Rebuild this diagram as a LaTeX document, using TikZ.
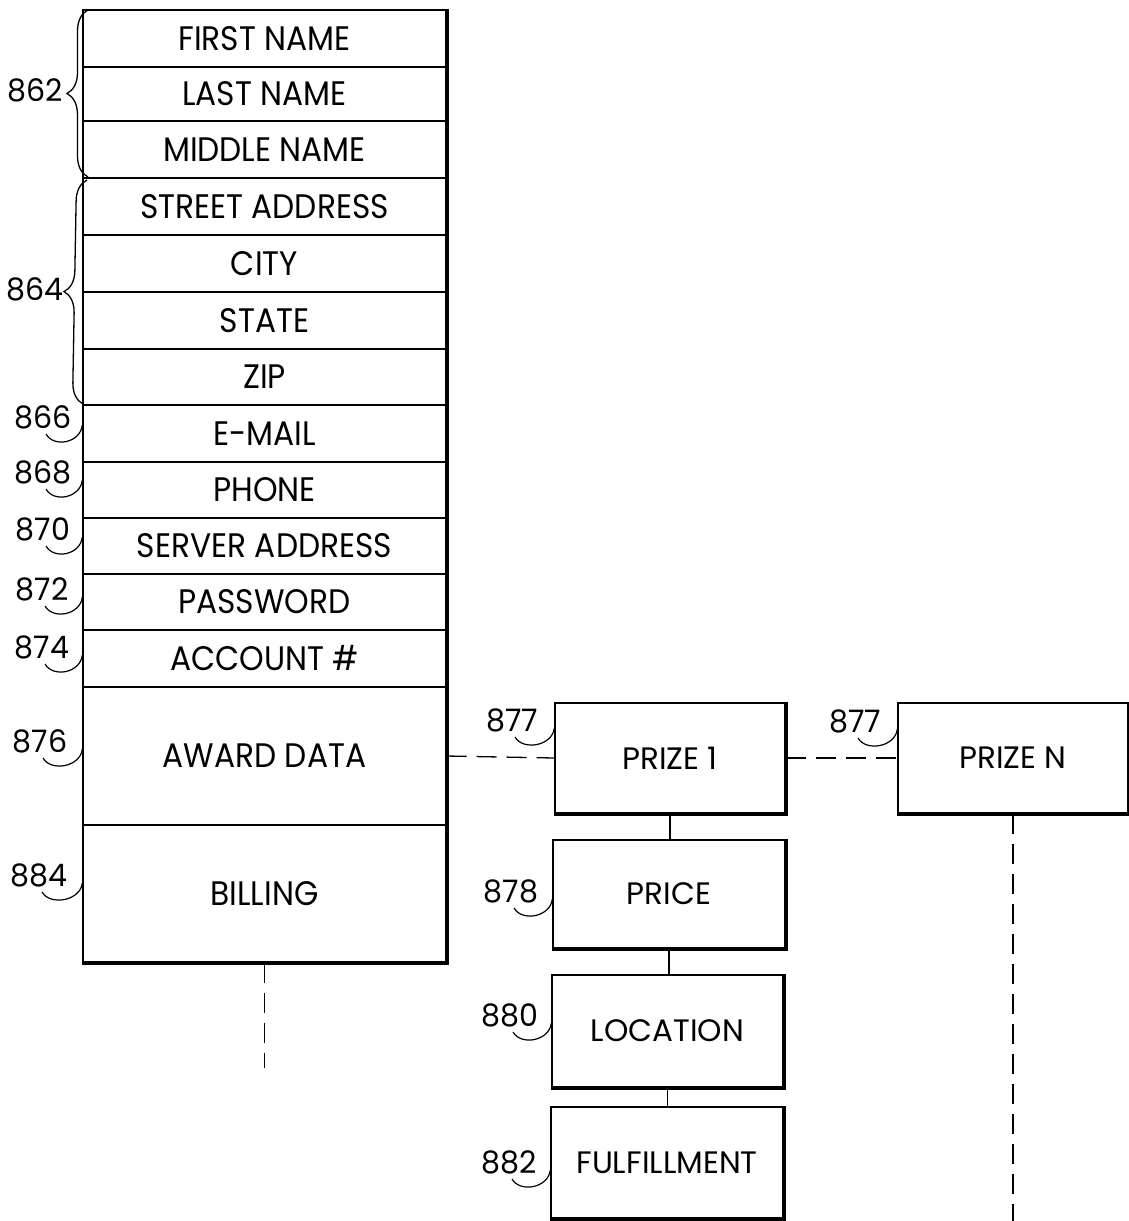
\documentclass[tikz,border=0pt]{standalone}
\usepackage{fontspec}
\usetikzlibrary{decorations.pathreplacing,calc}
\newfontfamily\herosn{Poppins}[FakeStretch=0.92]
\newfontfamily\herosw{Poppins}
\newfontfamily\herosd{Poppins}[FakeStretch=0.97]
\newcommand\mycellfont{\herosn\fontsize{34}{34}\selectfont}
\newcommand\myboxfont{\herosw\fontsize{31}{31}\selectfont}
\newcommand\mynumfont{\herosd\fontsize{31}{31}\selectfont}
\newcommand\myshadow[1]{\draw[shadowline] ([xshift=1pt]#1.north east) -- ([shift={(1pt,-1pt)}]#1.south east) -- ([yshift=-1pt]#1.south west);}
\begin{document}
\begin{tikzpicture}[x=1pt,y=-1pt,
  every node/.style={inner sep=0pt},
  cell/.style={draw, line width=1.3pt, minimum width=363pt, font=\mycellfont},
  pbox/.style={draw, line width=1.3pt, font=\myboxfont},
  num/.style={font=\mynumfont},
  leader/.style={line width=1.2pt},
  dashline/.style={line width=1.3pt, dash pattern=on 20pt off 10pt},
  solidline/.style={line width=1.3pt},
  shadowline/.style={line width=3.5pt},
  bracestyle/.style={line width=1.3pt, decorate, decoration={brace, amplitude=21pt}}]
\useasboundingbox (0,0) rectangle (1129,1221);

% main record table
\node[cell, minimum height=57pt]  (r1)  at (264.5,38.5)  {FIRST NAME};
\node[cell, minimum height=54pt]  (r2)  at (264.5,94)    {LAST NAME};
\node[cell, minimum height=57pt]  (r3)  at (264.5,149.5) {MIDDLE NAME};
\node[cell, minimum height=57pt]  (r4)  at (264.5,206.5) {STREET ADDRESS};
\node[cell, minimum height=57pt]  (r5)  at (264.5,263.5) {CITY};
\node[cell, minimum height=57pt]  (r6)  at (264.5,320.5) {STATE};
\node[cell, minimum height=56pt]  (r7)  at (264.5,377)   {ZIP};
\node[cell, minimum height=57pt]  (r8)  at (264.5,433.5) {E-MAIL};
\node[cell, minimum height=56pt]  (r9)  at (264.5,490)   {PHONE};
\node[cell, minimum height=56pt]  (r10) at (264.5,546)   {SERVER ADDRESS};
\node[cell, minimum height=56pt]  (r11) at (264.5,602)   {PASSWORD};
\node[cell, minimum height=57pt]  (r12) at (264.5,658.5) {ACCOUNT \#};
\node[cell, minimum height=138pt] (r13) at (264.5,756)   {AWARD DATA};
\node[cell, minimum height=137pt] (r14) at (264.5,893.5) {BILLING};
\draw[shadowline] ([xshift=1pt]r1.north east) -- ([shift={(1pt,-1pt)}]r14.south east) -- ([yshift=-1pt]r14.south west);

% prize boxes
\node[pbox, minimum width=230pt, minimum height=110pt] (p1)    at (670,758)     {PRIZE 1};
\node[pbox, minimum width=232pt, minimum height=108pt] (price) at (669,894)     {PRICE};
\node[pbox, minimum width=231pt, minimum height=112pt] (loc)   at (667.5,1031)  {LOCATION};
\node[pbox, minimum width=232pt, minimum height=111pt] (ful)   at (667,1162.5)  {FULFILLMENT};
\node[pbox, minimum width=230pt, minimum height=110pt] (pN)    at (1013,758)    {PRIZE N};
\myshadow{p1}
\myshadow{price}
\myshadow{loc}
\myshadow{ful}
\myshadow{pN}

% braces
\draw[bracestyle] (88,177) -- (88,10);
\draw[bracestyle] (83,404) -- (87,180);
\node[num] (l862) at (35,90) {862};
\node[num] (l864) at (35,289) {864};

% reference numerals with leaders
\node[num] (l866) at (43,417) {866};
\node[num] (l868) at (43,472) {868};
\node[num] (l870) at (43,529) {870};
\node[num] (l872) at (42,589) {872};
\node[num] (l874) at (42,647) {874};
\node[num] (l876) at (40,741) {876};
\node[num] (l884) at (39,875) {884};
\node[num] (l877a) at (512,720) {877};
\node[num] (l878) at (511,891) {878};
\node[num] (l880) at (510,1015) {880};
\node[num] (l882) at (509,1162) {882};
\node[num] (l877b) at (855,721) {877};

\foreach \l/\b in {l866/r8, l868/r9, l870/r10, l872/r11, l874/r12, l876/r13, l884/r14,
                   l877a/p1, l878/price, l880/loc, l882/ful, l877b/pN}{
  \draw[leader] ($(\l.center)+(3,17)$) .. controls +(8,14) and +(-2,18) .. ($(\l.center -| \b.west)+(0,8)$);
}

% connectors
\draw[dashline] (r13.east) -- (p1.west);
\draw[dashline] (p1.east) -- (pN.west);
\draw[solidline] (p1.south) -- (p1.south |- price.north);
\draw[solidline] (price.south) -- (price.south |- loc.north);
\draw[solidline] (loc.south) -- (loc.south |- ful.north);
\coordinate (bend) at (264.5,1068);
\coordinate (nend) at (1013,1221);
\draw[dashline] (r14.south) -- (bend);
\draw[dashline] (pN.south) -- (nend);
\end{tikzpicture}
\end{document}
